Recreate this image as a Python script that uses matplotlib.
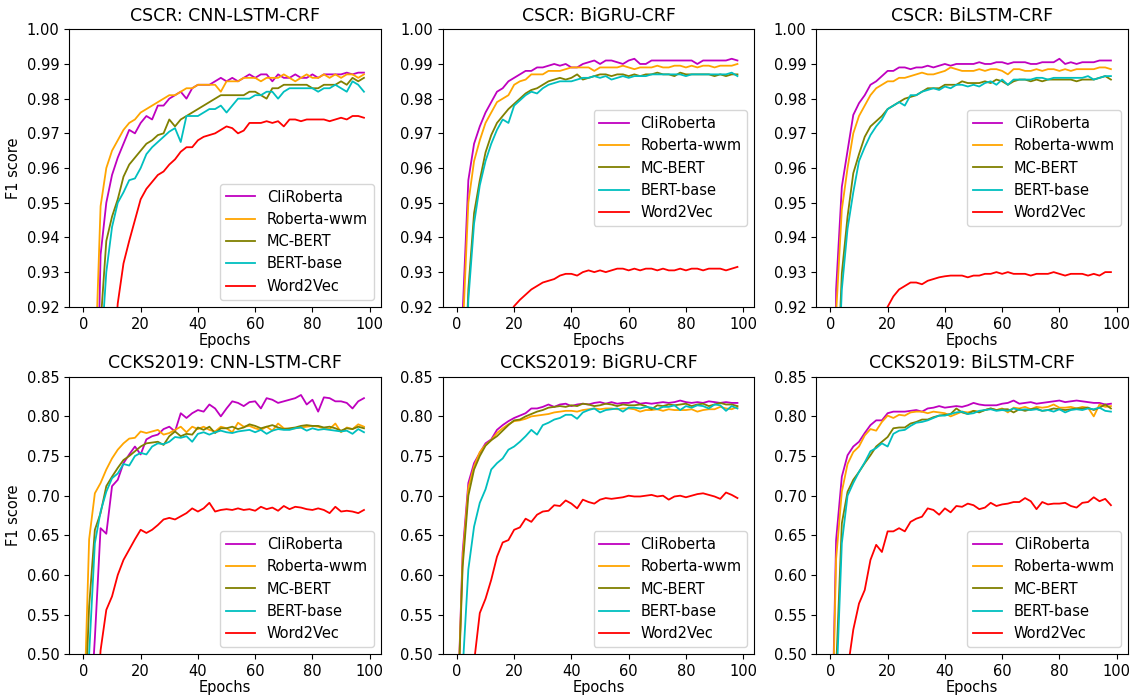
import numpy as np
import matplotlib
matplotlib.use("Agg")
import matplotlib.pyplot as plt

# epochs sampled every 2
epochs = np.arange(0, 100, 2)

models = ["CliRoberta", "Roberta-wwm", "MC-BERT", "BERT-base", "Word2Vec"]
colors = ["m", "orange", "olive", "c", "r"]

# ---- CSCR: CNN-LSTM-CRF
cscr_cnn_cli = [0.600, 0.700, 0.860, 0.935, 0.950, 0.958, 0.963, 0.967, 0.971, 0.970,
                0.973, 0.975, 0.974, 0.978, 0.978, 0.980, 0.981, 0.982, 0.980, 0.983,
                0.984, 0.984, 0.984, 0.985, 0.986, 0.985, 0.986, 0.985, 0.986, 0.987,
                0.986, 0.987, 0.987, 0.985, 0.987, 0.986, 0.986, 0.987, 0.986, 0.986,
                0.987, 0.986, 0.987, 0.987, 0.987, 0.987, 0.9875, 0.987, 0.9875, 0.9875]
cscr_cnn_rob = [0.600, 0.720, 0.900, 0.949, 0.960, 0.965, 0.968, 0.971, 0.973, 0.974,
                0.976, 0.977, 0.978, 0.979, 0.980, 0.981, 0.981, 0.982, 0.983, 0.983,
                0.984, 0.984, 0.984, 0.984, 0.982, 0.985, 0.985, 0.985, 0.986, 0.986,
                0.986, 0.985, 0.986, 0.986, 0.986, 0.987, 0.986, 0.985, 0.986, 0.987,
                0.986, 0.986, 0.987, 0.986, 0.987, 0.986, 0.987, 0.987, 0.986, 0.987]
cscr_cnn_mc = [0.550, 0.650, 0.800, 0.915, 0.939, 0.946, 0.951, 0.9575, 0.961, 0.963,
               0.965, 0.967, 0.968, 0.9695, 0.970, 0.974, 0.972, 0.974, 0.975, 0.976,
               0.977, 0.978, 0.979, 0.980, 0.981, 0.981, 0.981, 0.981, 0.981, 0.982,
               0.982, 0.981, 0.980, 0.983, 0.983, 0.984, 0.984, 0.984, 0.984, 0.984,
               0.983, 0.983, 0.984, 0.984, 0.984, 0.985, 0.984, 0.986, 0.985, 0.986]
cscr_cnn_bert = [0.550, 0.630, 0.780, 0.905, 0.930, 0.943, 0.950, 0.953, 0.9565, 0.957,
                 0.960, 0.964, 0.966, 0.9675, 0.969, 0.9705, 0.9715, 0.9675, 0.975, 0.975,
                 0.975, 0.976, 0.977, 0.977, 0.978, 0.976, 0.978, 0.980, 0.980, 0.980,
                 0.981, 0.981, 0.982, 0.982, 0.980, 0.982, 0.983, 0.983, 0.983, 0.983,
                 0.983, 0.982, 0.983, 0.983, 0.984, 0.983, 0.982, 0.985, 0.984, 0.982]
cscr_cnn_w2v = [0.500, 0.600, 0.700, 0.800, 0.860, 0.900, 0.921, 0.9325, 0.939, 0.945,
                0.951, 0.954, 0.956, 0.958, 0.959, 0.961, 0.9625, 0.9647, 0.966, 0.966,
                0.968, 0.969, 0.9695, 0.970, 0.971, 0.972, 0.9715, 0.970, 0.9708, 0.973,
                0.973, 0.973, 0.9735, 0.973, 0.9735, 0.972, 0.974, 0.974, 0.9735, 0.974,
                0.974, 0.974, 0.974, 0.9735, 0.974, 0.9745, 0.974, 0.975, 0.975, 0.9745]

# ---- CSCR: BiGRU-CRF
cscr_gru_cli = [0.700, 0.918, 0.9565, 0.967, 0.972, 0.976, 0.979, 0.982, 0.983, 0.985,
                0.986, 0.987, 0.988, 0.988, 0.989, 0.989, 0.9895, 0.990, 0.9895, 0.990,
                0.989, 0.989, 0.990, 0.9905, 0.991, 0.990, 0.991, 0.991, 0.9905, 0.990,
                0.991, 0.9915, 0.990, 0.990, 0.991, 0.991, 0.991, 0.991, 0.991, 0.991,
                0.991, 0.991, 0.990, 0.991, 0.991, 0.991, 0.991, 0.991, 0.9915, 0.991]
cscr_gru_rob = [0.700, 0.912, 0.950, 0.962, 0.968, 0.973, 0.976, 0.979, 0.980, 0.981,
                0.984, 0.985, 0.9855, 0.987, 0.987, 0.987, 0.988, 0.988, 0.988, 0.9885,
                0.989, 0.989, 0.989, 0.989, 0.988, 0.989, 0.989, 0.989, 0.989, 0.9895,
                0.989, 0.9885, 0.989, 0.989, 0.989, 0.9895, 0.989, 0.989, 0.9895, 0.9895,
                0.989, 0.9895, 0.989, 0.9895, 0.9895, 0.989, 0.9895, 0.9895, 0.9895, 0.990]
cscr_gru_mc = [0.650, 0.880, 0.925, 0.947, 0.9565, 0.9645, 0.9695, 0.973, 0.975, 0.977,
               0.9785, 0.980, 0.9815, 0.9825, 0.983, 0.984, 0.985, 0.9855, 0.986, 0.9855,
               0.986, 0.987, 0.9855, 0.986, 0.9865, 0.987, 0.987, 0.9865, 0.987, 0.987,
               0.9865, 0.987, 0.9865, 0.987, 0.987, 0.9875, 0.987, 0.987, 0.9865, 0.9875,
               0.987, 0.987, 0.987, 0.987, 0.987, 0.9865, 0.987, 0.9865, 0.987, 0.987]
cscr_gru_bert = [0.650, 0.870, 0.922, 0.944, 0.955, 0.962, 0.967, 0.971, 0.974, 0.973,
                 0.978, 0.9795, 0.981, 0.982, 0.9815, 0.983, 0.984, 0.9845, 0.985, 0.985,
                 0.985, 0.9855, 0.986, 0.986, 0.9865, 0.986, 0.9865, 0.9855, 0.986, 0.9865,
                 0.986, 0.9865, 0.9865, 0.9865, 0.987, 0.987, 0.987, 0.987, 0.987, 0.987,
                 0.9865, 0.987, 0.987, 0.987, 0.987, 0.987, 0.987, 0.987, 0.9875, 0.9865]
cscr_gru_w2v = [0.800, 0.840, 0.860, 0.875, 0.885, 0.895, 0.903, 0.908, 0.913, 0.9175,
                0.9202, 0.922, 0.9235, 0.925, 0.926, 0.927, 0.9275, 0.928, 0.929, 0.9295,
                0.9295, 0.929, 0.930, 0.9305, 0.930, 0.9305, 0.930, 0.9305, 0.931, 0.931,
                0.9305, 0.931, 0.9305, 0.931, 0.931, 0.9305, 0.931, 0.9305, 0.9305, 0.931,
                0.9305, 0.931, 0.931, 0.9305, 0.931, 0.931, 0.931, 0.9305, 0.931, 0.9315]

# ---- CSCR: BiLSTM-CRF
cscr_lstm_cli = [0.700, 0.925, 0.9546, 0.965, 0.9753, 0.9787, 0.981, 0.984, 0.985, 0.9865,
                 0.988, 0.988, 0.989, 0.989, 0.9885, 0.989, 0.989, 0.9895, 0.989, 0.9895,
                 0.990, 0.9895, 0.990, 0.990, 0.990, 0.990, 0.9905, 0.990, 0.990, 0.9905,
                 0.9905, 0.990, 0.9905, 0.9905, 0.9905, 0.990, 0.990, 0.9905, 0.9905, 0.9905,
                 0.9915, 0.990, 0.9905, 0.990, 0.9905, 0.9905, 0.9905, 0.991, 0.991, 0.991]
cscr_lstm_rob = [0.700, 0.918, 0.948, 0.960, 0.970, 0.975, 0.978, 0.981, 0.983, 0.984,
                 0.985, 0.985, 0.986, 0.986, 0.9865, 0.987, 0.9875, 0.987, 0.987, 0.9875,
                 0.988, 0.989, 0.9885, 0.988, 0.988, 0.988, 0.9885, 0.988, 0.9885, 0.9885,
                 0.988, 0.987, 0.9885, 0.9885, 0.988, 0.988, 0.9885, 0.988, 0.9885, 0.9885,
                 0.988, 0.9885, 0.988, 0.9885, 0.9885, 0.9885, 0.9885, 0.989, 0.989, 0.9885]
cscr_lstm_mc = [0.650, 0.890, 0.9296, 0.946, 0.9585, 0.964, 0.969, 0.972, 0.9735, 0.975,
                0.977, 0.978, 0.979, 0.980, 0.9805, 0.981, 0.982, 0.983, 0.983, 0.983,
                0.984, 0.984, 0.984, 0.985, 0.9845, 0.9845, 0.9845, 0.985, 0.9845, 0.9855,
                0.985, 0.984, 0.985, 0.9855, 0.9855, 0.985, 0.9855, 0.985, 0.9855, 0.9855,
                0.9855, 0.9855, 0.9855, 0.985, 0.9855, 0.9855, 0.9855, 0.986, 0.9865, 0.9855]
cscr_lstm_bert = [0.650, 0.885, 0.925, 0.9425, 0.953, 0.962, 0.966, 0.9695, 0.972, 0.974,
                  0.977, 0.978, 0.979, 0.978, 0.981, 0.981, 0.982, 0.9825, 0.983, 0.9825,
                  0.9835, 0.983, 0.984, 0.984, 0.9835, 0.984, 0.9835, 0.9845, 0.985, 0.984,
                  0.9855, 0.984, 0.9855, 0.9855, 0.9855, 0.9855, 0.986, 0.986, 0.9855, 0.986,
                  0.986, 0.986, 0.986, 0.986, 0.986, 0.9865, 0.9855, 0.986, 0.9865, 0.9865]
cscr_lstm_w2v = [0.800, 0.840, 0.860, 0.875, 0.885, 0.895, 0.903, 0.908, 0.913, 0.9175,
                 0.920, 0.923, 0.925, 0.926, 0.927, 0.927, 0.9265, 0.9275, 0.928, 0.9285,
                 0.9288, 0.929, 0.929, 0.929, 0.9285, 0.929, 0.929, 0.9295, 0.9295, 0.930,
                 0.9295, 0.930, 0.9295, 0.9295, 0.9295, 0.929, 0.9295, 0.9295, 0.9295, 0.930,
                 0.9295, 0.929, 0.9295, 0.9295, 0.9295, 0.929, 0.9295, 0.929, 0.930, 0.930]

# ---- CCKS2019: CNN-LSTM-CRF
ccks_cnn_cli = [0.300, 0.400, 0.520, 0.659, 0.652, 0.712, 0.720, 0.741, 0.752, 0.762,
                0.752, 0.771, 0.775, 0.777, 0.784, 0.787, 0.781, 0.804, 0.798, 0.804,
                0.808, 0.806, 0.815, 0.810, 0.800, 0.810, 0.819, 0.817, 0.813, 0.818,
                0.819, 0.810, 0.823, 0.821, 0.817, 0.819, 0.821, 0.823, 0.827, 0.815,
                0.821, 0.806, 0.824, 0.823, 0.819, 0.819, 0.817, 0.810, 0.819, 0.823]
ccks_cnn_rob = [0.400, 0.645, 0.703, 0.716, 0.733, 0.747, 0.758, 0.766, 0.772, 0.773,
                0.781, 0.779, 0.781, 0.783, 0.777, 0.779, 0.783, 0.787, 0.780, 0.787,
                0.784, 0.787, 0.783, 0.781, 0.787, 0.785, 0.780, 0.792, 0.787, 0.788,
                0.785, 0.783, 0.787, 0.782, 0.791, 0.785, 0.784, 0.785, 0.786, 0.787,
                0.788, 0.787, 0.785, 0.784, 0.791, 0.780, 0.786, 0.784, 0.790, 0.787]
ccks_cnn_mc = [0.380, 0.5605, 0.657, 0.678, 0.712, 0.724, 0.735, 0.745, 0.750, 0.756,
               0.762, 0.766, 0.767, 0.768, 0.764, 0.775, 0.781, 0.775, 0.778, 0.777,
               0.786, 0.783, 0.787, 0.779, 0.785, 0.785, 0.787, 0.784, 0.786, 0.790,
               0.788, 0.785, 0.787, 0.789, 0.786, 0.784, 0.785, 0.786, 0.788, 0.789,
               0.788, 0.788, 0.786, 0.787, 0.785, 0.782, 0.785, 0.784, 0.787, 0.785]
ccks_cnn_bert = [0.350, 0.500, 0.640, 0.680, 0.705, 0.722, 0.728, 0.740, 0.738, 0.750,
                 0.754, 0.752, 0.762, 0.766, 0.765, 0.768, 0.774, 0.773, 0.775, 0.768,
                 0.778, 0.780, 0.777, 0.780, 0.782, 0.780, 0.779, 0.781, 0.782, 0.783,
                 0.780, 0.783, 0.778, 0.782, 0.784, 0.783, 0.783, 0.785, 0.786, 0.782,
                 0.785, 0.783, 0.784, 0.783, 0.782, 0.781, 0.782, 0.778, 0.784, 0.780]
ccks_cnn_w2v = [0.200, 0.300, 0.400, 0.505, 0.556, 0.573, 0.600, 0.619, 0.632, 0.645,
                0.657, 0.653, 0.657, 0.663, 0.670, 0.672, 0.670, 0.674, 0.678, 0.684,
                0.680, 0.684, 0.691, 0.680, 0.682, 0.683, 0.682, 0.684, 0.682, 0.683,
                0.681, 0.686, 0.683, 0.685, 0.681, 0.687, 0.683, 0.686, 0.685, 0.683,
                0.682, 0.684, 0.682, 0.678, 0.686, 0.680, 0.681, 0.680, 0.678, 0.682]

# ---- CCKS2019: BiGRU-CRF
ccks_gru_cli = [0.400, 0.628, 0.716, 0.741, 0.754, 0.766, 0.771, 0.783, 0.789, 0.794,
                0.798, 0.801, 0.804, 0.810, 0.810, 0.812, 0.815, 0.812, 0.815, 0.816,
                0.813, 0.815, 0.816, 0.815, 0.817, 0.818, 0.816, 0.818, 0.816, 0.817,
                0.817, 0.819, 0.816, 0.817, 0.816, 0.817, 0.818, 0.817, 0.818, 0.820,
                0.818, 0.817, 0.818, 0.817, 0.819, 0.818, 0.817, 0.818, 0.817, 0.817]
ccks_gru_rob = [0.400, 0.620, 0.710, 0.737, 0.755, 0.764, 0.770, 0.779, 0.785, 0.790,
                0.794, 0.795, 0.797, 0.800, 0.801, 0.802, 0.803, 0.805, 0.806, 0.807,
                0.807, 0.806, 0.808, 0.809, 0.810, 0.809, 0.810, 0.810, 0.809, 0.810,
                0.810, 0.809, 0.806, 0.808, 0.808, 0.809, 0.807, 0.809, 0.808, 0.808,
                0.808, 0.809, 0.806, 0.808, 0.809, 0.809, 0.812, 0.810, 0.809, 0.812]
ccks_gru_mc = [0.400, 0.610, 0.700, 0.733, 0.750, 0.763, 0.770, 0.775, 0.782, 0.789,
               0.795, 0.796, 0.800, 0.803, 0.806, 0.808, 0.811, 0.812, 0.813, 0.812,
               0.814, 0.813, 0.816, 0.815, 0.813, 0.814, 0.816, 0.815, 0.813, 0.815,
               0.814, 0.814, 0.815, 0.813, 0.809, 0.814, 0.813, 0.815, 0.814, 0.815,
               0.816, 0.813, 0.815, 0.816, 0.813, 0.815, 0.817, 0.815, 0.815, 0.813]
ccks_gru_bert = [0.300, 0.480, 0.607, 0.661, 0.691, 0.708, 0.733, 0.741, 0.747, 0.758,
                 0.762, 0.768, 0.775, 0.783, 0.777, 0.789, 0.792, 0.796, 0.798, 0.802,
                 0.802, 0.797, 0.805, 0.808, 0.810, 0.805, 0.808, 0.809, 0.810, 0.806,
                 0.811, 0.811, 0.810, 0.812, 0.811, 0.809, 0.812, 0.812, 0.814, 0.808,
                 0.813, 0.811, 0.814, 0.813, 0.810, 0.815, 0.814, 0.807, 0.813, 0.810]
ccks_gru_w2v = [0.200, 0.300, 0.400, 0.490, 0.552, 0.570, 0.594, 0.623, 0.641, 0.644,
                0.657, 0.660, 0.671, 0.667, 0.676, 0.680, 0.681, 0.688, 0.687, 0.694,
                0.690, 0.684, 0.695, 0.692, 0.690, 0.695, 0.697, 0.696, 0.697, 0.698,
                0.700, 0.699, 0.699, 0.700, 0.701, 0.699, 0.700, 0.695, 0.699, 0.700,
                0.698, 0.700, 0.702, 0.703, 0.701, 0.699, 0.696, 0.704, 0.701, 0.697]

# ---- CCKS2019: BiLSTM-CRF
ccks_lstm_cli = [0.300, 0.644, 0.724, 0.751, 0.762, 0.768, 0.779, 0.789, 0.795, 0.795,
                 0.804, 0.806, 0.806, 0.806, 0.807, 0.808, 0.806, 0.810, 0.811, 0.813,
                 0.811, 0.812, 0.813, 0.812, 0.814, 0.817, 0.815, 0.814, 0.814, 0.814,
                 0.816, 0.817, 0.820, 0.816, 0.817, 0.818, 0.816, 0.817, 0.818, 0.819,
                 0.820, 0.818, 0.819, 0.820, 0.819, 0.818, 0.817, 0.817, 0.815, 0.816]
ccks_lstm_rob = [0.300, 0.620, 0.705, 0.740, 0.755, 0.762, 0.776, 0.784, 0.782, 0.793,
                 0.801, 0.798, 0.802, 0.801, 0.805, 0.806, 0.806, 0.804, 0.806, 0.805,
                 0.804, 0.800, 0.803, 0.806, 0.805, 0.807, 0.806, 0.808, 0.810, 0.808,
                 0.810, 0.805, 0.811, 0.810, 0.812, 0.809, 0.812, 0.811, 0.812, 0.815,
                 0.811, 0.811, 0.812, 0.810, 0.812, 0.811, 0.800, 0.815, 0.812, 0.813]
ccks_lstm_mc = [0.300, 0.480, 0.665, 0.705, 0.720, 0.730, 0.741, 0.751, 0.762, 0.768,
                0.774, 0.785, 0.786, 0.786, 0.791, 0.793, 0.796, 0.796, 0.799, 0.801,
                0.802, 0.803, 0.810, 0.805, 0.803, 0.807, 0.805, 0.808, 0.810, 0.808,
                0.809, 0.809, 0.805, 0.809, 0.807, 0.809, 0.810, 0.807, 0.808, 0.810,
                0.809, 0.808, 0.809, 0.810, 0.810, 0.811, 0.808, 0.811, 0.815, 0.810]
ccks_lstm_bert = [0.300, 0.450, 0.640, 0.700, 0.716, 0.730, 0.742, 0.756, 0.760, 0.766,
                  0.762, 0.778, 0.782, 0.783, 0.788, 0.792, 0.793, 0.795, 0.798, 0.801,
                  0.801, 0.803, 0.805, 0.806, 0.803, 0.804, 0.807, 0.808, 0.809, 0.807,
                  0.808, 0.807, 0.810, 0.808, 0.809, 0.808, 0.809, 0.807, 0.808, 0.806,
                  0.809, 0.805, 0.808, 0.809, 0.808, 0.810, 0.809, 0.811, 0.807, 0.806]
ccks_lstm_w2v = [0.200, 0.300, 0.400, 0.480, 0.531, 0.564, 0.581, 0.619, 0.638, 0.629,
                 0.655, 0.655, 0.659, 0.655, 0.667, 0.671, 0.6735, 0.684, 0.682, 0.676,
                 0.684, 0.679, 0.687, 0.686, 0.690, 0.688, 0.683, 0.685, 0.691, 0.687,
                 0.689, 0.690, 0.692, 0.692, 0.697, 0.693, 0.683, 0.692, 0.689, 0.690,
                 0.690, 0.691, 0.687, 0.685, 0.691, 0.692, 0.698, 0.693, 0.696, 0.688]

panels = [
    ("CSCR: CNN-LSTM-CRF", [cscr_cnn_cli, cscr_cnn_rob, cscr_cnn_mc, cscr_cnn_bert, cscr_cnn_w2v]),
    ("CSCR: BiGRU-CRF", [cscr_gru_cli, cscr_gru_rob, cscr_gru_mc, cscr_gru_bert, cscr_gru_w2v]),
    ("CSCR: BiLSTM-CRF", [cscr_lstm_cli, cscr_lstm_rob, cscr_lstm_mc, cscr_lstm_bert, cscr_lstm_w2v]),
    ("CCKS2019: CNN-LSTM-CRF", [ccks_cnn_cli, ccks_cnn_rob, ccks_cnn_mc, ccks_cnn_bert, ccks_cnn_w2v]),
    ("CCKS2019: BiGRU-CRF", [ccks_gru_cli, ccks_gru_rob, ccks_gru_mc, ccks_gru_bert, ccks_gru_w2v]),
    ("CCKS2019: BiLSTM-CRF", [ccks_lstm_cli, ccks_lstm_rob, ccks_lstm_mc, ccks_lstm_bert, ccks_lstm_w2v]),
]
legend_locs = ["lower right", "center right", "center right",
               "lower right", "lower right", "lower right"]

fig, axes = plt.subplots(2, 3, figsize=(11.35, 6.97), dpi=100)
fig.subplots_adjust(left=0.061, right=0.9938, top=0.958, bottom=0.0613,
                    wspace=0.198, hspace=0.252)

for i, (title, series) in enumerate(panels):
    ax = axes.flat[i]
    for name, col, vals in zip(models, colors, series):
        ax.plot(epochs, vals, color=col, label=name, linewidth=1.3)
    ax.set_title(title, fontsize=12.5)
    ax.set_xlabel("Epochs", fontsize=10.5, labelpad=1)
    ax.set_xlim(-4.95, 103.95)
    if i < 3:
        ax.set_ylim(0.92, 1.0)
        ax.set_yticks(np.arange(0.92, 1.0001, 0.01))
    else:
        ax.set_ylim(0.5, 0.85)
        ax.set_yticks(np.arange(0.5, 0.8501, 0.05))
    ax.yaxis.set_major_formatter(plt.FormatStrFormatter("%.2f"))
    ax.set_xticks([0, 20, 40, 60, 80, 100])
    ax.tick_params(labelsize=10.5)
    if i % 3 == 0:
        ax.set_ylabel("F1 score", fontsize=10.5)
    ax.legend(loc=legend_locs[i], fontsize=10.5)

fig.savefig("out.png", dpi=100)
